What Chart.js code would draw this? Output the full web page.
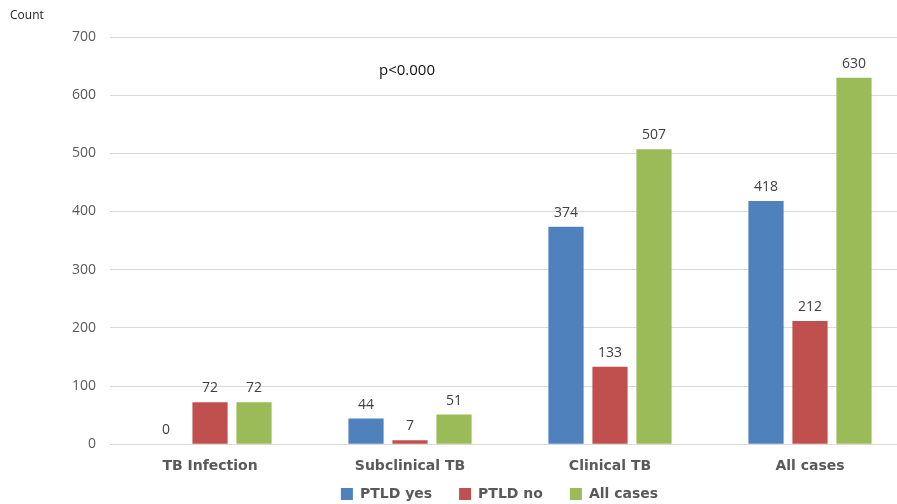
<!DOCTYPE html>
<html>
<head>
<meta charset="utf-8">
<script src="https://cdn.jsdelivr.net/npm/chart.js@4/dist/chart.umd.min.js"></script>
<style>
    html, body { margin: 0; padding: 0; background: #fff; overflow: hidden; }
    #wrap { position: relative; width: 910px; height: 504px; }
</style>
</head>
<body>
<div id="wrap"><canvas id="chart"></canvas></div>
<script>
const categories = ['TB Infection', 'Subclinical TB', 'Clinical TB', 'All cases'];
const ptldYes = [0, 44, 374, 418];
const ptldNo = [72, 7, 133, 212];
const allCases = [72, 51, 507, 630];
const seriesNames = ['PTLD yes', 'PTLD no', 'All cases'];
const yTicks = [0, 100, 200, 300, 400, 500, 600, 700];

const textGrey = '#595959';

// value labels above each bar + the extra text on the chart
const labelPlugin = {
    id: 'labels',
    afterDatasetsDraw(chart) {
        const ctx = chart.ctx;
        ctx.save();
        ctx.font = '14px "Open Sans"';
        ctx.fillStyle = '#404040';
        ctx.textAlign = 'center';
        ctx.textBaseline = 'middle';
        chart.data.datasets.forEach((ds, i) => {
            chart.getDatasetMeta(i).data.forEach((bar, j) => {
                ctx.fillText(ds.data[j], bar.x, bar.y - 14);
            });
        });

        ctx.fillStyle = '#222';
        ctx.font = '12px "Open Sans"';
        ctx.textAlign = 'left';
        ctx.fillText('Count', 10, 16);

        ctx.font = '15px "Open Sans"';
        ctx.fillStyle = '#111';
        ctx.fillText('p<0.000', 379, 71);
        ctx.restore();
    }
};

new Chart(document.getElementById('chart').getContext('2d'), {
    type: 'bar',
    data: {
        labels: categories,
        datasets: [
            { label: seriesNames[0], data: ptldYes, backgroundColor: '#4F81BD' },
            { label: seriesNames[1], data: ptldNo, backgroundColor: '#C0504D' },
            { label: seriesNames[2], data: allCases, backgroundColor: '#9BBB59' }
        ]
    },
    options: {
        responsive: true,
        maintainAspectRatio: false,
        animation: false,
        datasets: {
            bar: { categoryPercentage: 0.66, barPercentage: 0.8 }
        },
        layout: { padding: { top: 37, left: 58, right: 0, bottom: -7 } },
        plugins: {
            legend: {
                position: 'bottom',
                fullSize: false,
                labels: {
                    color: textGrey,
                    font: { family: '"DejaVu Sans"', size: 14, weight: 'bold' },
                    boxWidth: 12,
                    boxHeight: 12,
                    padding: 6,
                    // wider gap between items without extra vertical space
                    generateLabels(chart) {
                        const items = Chart.defaults.plugins.legend.labels.generateLabels(chart);
                        items.forEach(item => {
                            item.text += '\u2002\u2002\u2002';
                        });
                        return items;
                    }
                }
            },
            tooltip: { enabled: false }
        },
        scales: {
            x: {
                grid: { display: false },
                border: { color: '#d9d9d9' },
                ticks: {
                    color: textGrey,
                    font: { family: '"DejaVu Sans"', size: 14, weight: 'bold' },
                    padding: 6
                }
            },
            y: {
                min: 0,
                max: 700,
                afterBuildTicks(axis) {
                    axis.ticks = yTicks.map(v => ({ value: v }));
                },
                grid: { color: '#d9d9d9', drawTicks: false },
                border: { display: false },
                ticks: {
                    color: textGrey,
                    font: { family: '"Open Sans"', size: 14 },
                    padding: 14
                }
            }
        }
    },
    plugins: [labelPlugin]
});
</script>
</body>
</html>
